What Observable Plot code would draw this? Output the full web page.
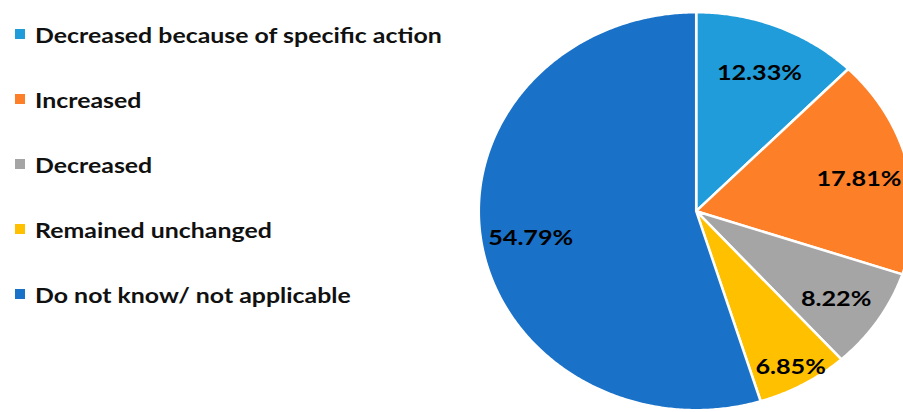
<!DOCTYPE html>
<html><head><meta charset="utf-8">
<script src="https://cdn.jsdelivr.net/npm/d3@7"></script>
<script src="https://cdn.jsdelivr.net/npm/@observablehq/plot@0.6"></script>
<style>
html,body{margin:0;padding:0;background:#fff;}
#wrap{position:relative;width:903px;height:412px;overflow:hidden;font-family:Lato,"Open Sans",sans-serif;}
#legend{position:absolute;left:0;top:0;width:470px;height:412px;}
.item{position:absolute;left:15px;display:flex;align-items:center;font-weight:bold;font-size:21px;color:#111;white-space:nowrap;}
.sw{width:10px;height:10px;margin-right:10px;flex:none;}
.tx{display:inline-block;transform:scaleX(1.185);transform-origin:left center;}
#chart{position:absolute;left:0;top:0;}
#chart svg{overflow:hidden;}
</style></head>
<body>
<div id="wrap"><div id="chart"></div><div id="legend"></div></div>
<script>
const categories = ["Decreased because of specific action","Increased","Decreased","Remained unchanged","Do not know/ not applicable"];
const values = [12.33, 17.81, 8.22, 6.85, 54.79];
const labels = ["12.33%","17.81%","8.22%","6.85%","54.79%"];
const colors = ["#1F9CD9","#FD7F27","#A5A5A5","#FFC000","#1A72C8"];

const data = categories.map((c,i)=>({category:c, value:values[i], label:labels[i], color:colors[i]}));
const arcs = d3.pie().sort(null).value(d=>d.value).startAngle(0).endAngle(2*Math.PI)(data);

// polygon points for each slice, in unit-circle coordinates
const pts = [];
arcs.forEach((a,i)=>{
  pts.push({k:i, x:0, y:0, color:a.data.color});
  const n = Math.max(4, Math.ceil((a.endAngle-a.startAngle)/(Math.PI/360)));
  for(let j=0;j<=n;j++){
    const t = a.startAngle + (a.endAngle-a.startAngle)*j/n;
    pts.push({k:i, x:Math.sin(t), y:Math.cos(t), color:a.data.color});
  }
});
const labelPts = arcs.map(a=>{
  const m = (a.startAngle+a.endAngle)/2;
  const r = a.data.value < 7.5 ? 0.88 : 0.77;
  return {x:r*Math.sin(m), y:r*Math.cos(m), label:a.data.label};
});

const cx = 695.7, cy = 210.7, rx = 217.4, ry = 199;
const chart = Plot.plot({
  width: 903, height: 412, margin: 0,
  x: {domain:[-1,1], range:[cx-rx, cx+rx], axis:null},
  y: {domain:[-1,1], range:[cy+ry, cy-ry], axis:null},
  marks: [
    Plot.line(pts, {x:"x", y:"y", z:"k", fill:"color", stroke:"white", strokeWidth:2.5, strokeLinejoin:"round", curve:"linear-closed"}),
    Plot.text(labelPts, {x:"x", y:"y", dy:4, text:"label", fill:"black", fontSize:21, fontWeight:"bold", fontFamily:"Lato"})
  ]
});
// widen the label glyphs horizontally like the reference
d3.select(chart).selectAll("text").each(function(){
  const t = this.getAttribute("transform");
  if (t) this.setAttribute("transform", t + " scale(1.2,1)");
  else {
    const x = this.getAttribute("x") || 0, y = this.getAttribute("y") || 0;
    this.removeAttribute("x"); this.removeAttribute("y");
    this.setAttribute("transform", `translate(${x},${y}) scale(1.2,1)`);
  }
});
document.getElementById("chart").appendChild(chart);

const leg = document.getElementById("legend");
categories.forEach((c,i)=>{
  const it = document.createElement("div");
  it.className = "item";
  it.style.top = (36 + i*65 - 16) + "px";
  it.style.height = "28px";
  const sw = document.createElement("span"); sw.className="sw"; sw.style.background = colors[i];
  const tx = document.createElement("span"); tx.className="tx"; tx.textContent = c;
  it.appendChild(sw); it.appendChild(tx);
  leg.appendChild(it);
});
</script>
</body></html>
